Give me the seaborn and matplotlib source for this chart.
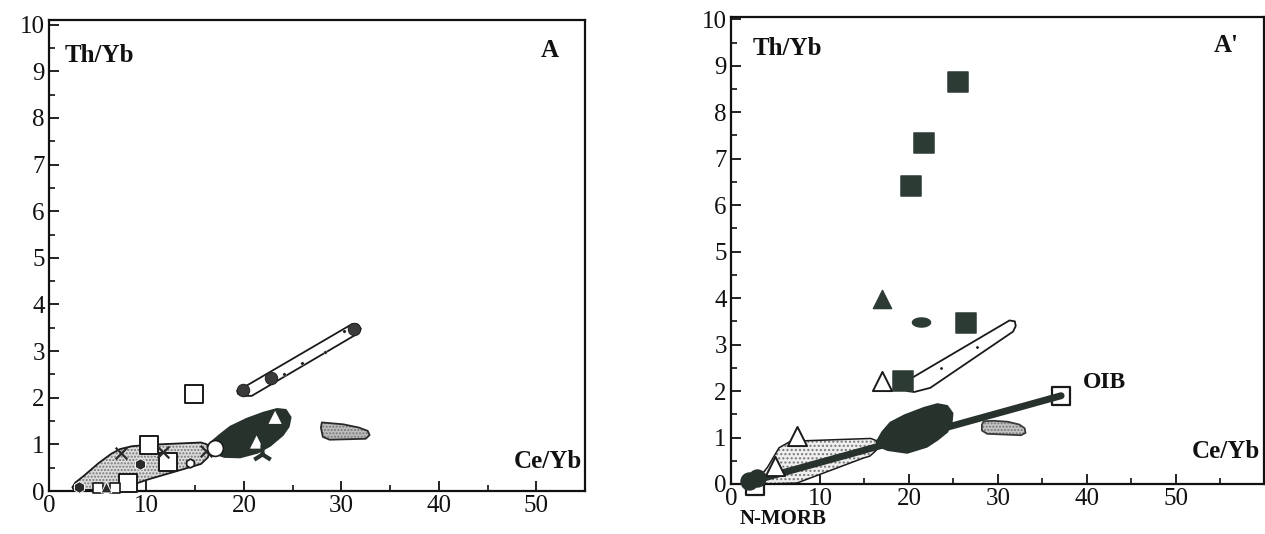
import numpy as np
import pandas as pd
import matplotlib
matplotlib.use("Agg")
import matplotlib.pyplot as plt
import seaborn as sns

sns.set_theme(style="ticks")
plt.rcParams['font.family'] = ['Liberation Serif', 'DejaVu Serif']

DARK = '#27322d'

# ---------------- Panel A data ----------------
A_light_x = [2.4, 2.7, 3.6, 5.1, 6.4, 7.3, 8.5, 10.2, 15.6, 16.2, 16.5, 16.3, 15.6, 13.0, 10.2, 7.8, 5.1, 3.0, 2.5]
A_light_y = [0.08, 0.18, 0.33, 0.60, 0.80, 0.90, 0.96, 0.99, 1.04, 1.00, 0.88, 0.72, 0.58, 0.42, 0.25, 0.08, 0.03, 0.02, 0.04]
A_dark_x = [16.6, 17.5, 18.6, 20.3, 22.0, 23.4, 24.3, 24.8, 24.6, 24.0, 22.7, 21.4, 19.6, 18.0, 17.0, 16.5]
A_dark_y = [1.04, 1.20, 1.38, 1.55, 1.68, 1.76, 1.74, 1.58, 1.38, 1.20, 0.97, 0.82, 0.72, 0.73, 0.80, 0.93]
A_upper_x = [19.6, 20.2, 31.1, 31.7, 32.0, 31.8, 31.3, 20.8, 20.0, 19.4, 19.3]
A_upper_y = [2.21, 2.25, 3.58, 3.57, 3.48, 3.40, 3.33, 2.04, 2.04, 2.08, 2.15]
A_small_x = [28.0, 30.2, 31.8, 32.7, 32.9, 32.5, 28.8, 28.1, 27.9]
A_small_y = [1.47, 1.43, 1.36, 1.29, 1.20, 1.12, 1.10, 1.16, 1.36]

A_opensq_x = [14.85, 10.3, 12.2, 8.1]
A_opensq_y = [2.09, 0.99, 0.62, 0.18]
A_smallsq_x = [5.0, 6.8]
A_smallsq_y = [0.07, 0.07]
A_circ_x = [19.9, 22.8, 31.3]
A_circ_y = [2.17, 2.42, 3.48]
A_dot_x = [24.1, 28.3, 30.3, 26.0]
A_dot_y = [2.51, 2.97, 3.43, 2.75]
A_xmark_x = [7.4, 16.1, 11.7]
A_xmark_y = [0.81, 0.86, 0.84]
A_tri_x = [5.9]
A_tri_y = [0.09]
A_blob_x = [3.05, 9.3]
A_blob_y = [0.09, 0.57]
A_opencirc_x = [17.05]
A_opencirc_y = [0.92]
A_hex_x = [14.5]
A_hex_y = [0.61]
A_wtri_x = [23.2, 21.3]
A_wtri_y = [1.58, 1.05]
A_star_x = [21.9]
A_star_y = [0.80]

# ---------------- Panel A' data ----------------
B_light_x = [3.0, 4.1, 5.4, 6.7, 15.7, 16.4, 16.3, 15.6, 14.9, 7.4, 4.1, 2.9]
B_light_y = [0.10, 0.36, 0.78, 0.92, 0.98, 0.93, 0.72, 0.60, 0.56, 0.02, 0.00, 0.04]
B_dark_x = [16.4, 17.0, 17.9, 19.5, 21.7, 23.2, 24.3, 24.9, 24.8, 24.3, 23.2, 22.0, 19.8, 17.6, 16.6]
B_dark_y = [0.92, 1.12, 1.32, 1.48, 1.64, 1.72, 1.68, 1.52, 1.32, 1.12, 0.95, 0.80, 0.67, 0.73, 0.81]
B_upper_x = [19.5, 20.3, 31.3, 31.9, 32.0, 31.7, 22.4, 20.6, 19.8, 19.4]
B_upper_y = [2.14, 2.28, 3.52, 3.50, 3.40, 3.28, 2.07, 1.98, 2.00, 2.06]
B_small_x = [28.4, 29.5, 31.1, 32.4, 33.0, 33.1, 32.6, 28.8, 28.2, 28.2]
B_small_y = [1.35, 1.36, 1.34, 1.28, 1.20, 1.10, 1.05, 1.08, 1.15, 1.28]

B_fsq_x = [25.5, 21.7, 20.2, 26.4, 19.3]
B_fsq_y = [8.65, 7.33, 6.42, 3.47, 2.21]
B_ftri_x = [17.0]
B_ftri_y = [3.98]
B_ell_x = [21.3]
B_ell_y = [3.48]
B_otri_x = [17.0, 7.4, 4.9]
B_otri_y = [2.21, 1.03, 0.38]
B_osq_x = [37.1, 2.7]
B_osq_y = [1.90, -0.05]
B_fcirc_x = [2.0, 2.9]
B_fcirc_y = [0.06, 0.13]
B_dot_x = [23.6, 27.7]
B_dot_y = [2.50, 2.95]
B_line_x = [2.2, 37.1]
B_line_y = [0.05, 1.90]

W, H = 1265, 534
fig = plt.figure(figsize=(W / 100, H / 100), dpi=100)
axA = fig.add_axes([49 / W, 1 - 491 / H, (585 - 49) / W, (491 - 20) / H])
axB = fig.add_axes([731 / W, 1 - 484 / H, (1264 - 731) / W, (484 - 17) / H])


def field(ax, xs, ys, fc, ec, hatch=None, lw=1.3, z=2):
    ax.fill(xs, ys, facecolor=fc, edgecolor='#777777' if hatch else 'none',
            hatch=hatch, linewidth=0, zorder=z)
    ax.fill(xs, ys, facecolor='none', edgecolor=ec, linewidth=lw, zorder=z + 0.1,
            joinstyle='round')


def pts(ax, xs, ys, **kw):
    sns.scatterplot(x=xs, y=ys, ax=ax, legend=False, clip_on=False, **kw)


# ---- Panel A ----
field(axA, A_light_x, A_light_y, '#dcdcdc', '#1a1a1a', hatch='.....')
field(axA, A_dark_x, A_dark_y, DARK, DARK, z=3)
field(axA, A_upper_x, A_upper_y, 'white', '#1a1a1a')
field(axA, A_small_x, A_small_y, '#bdbdbd', '#2a2a2a', hatch='.....')

pts(axA, A_opensq_x, A_opensq_y, marker='s', s=160, facecolor='white', edgecolor='#1a1a1a', linewidth=1.4, zorder=5)
pts(axA, A_smallsq_x, A_smallsq_y, marker='s', s=50, facecolor='white', edgecolor='#1a1a1a', linewidth=1.2, zorder=5)
pts(axA, A_circ_x, A_circ_y, marker='o', s=80, color='#3a3a3a', edgecolor='#222222', zorder=5)
pts(axA, A_dot_x, A_dot_y, marker='o', s=6, color='#222222', zorder=5)
pts(axA, A_xmark_x, A_xmark_y, marker='x', s=70, color='#2a2a2a', linewidth=1.6, zorder=5)
pts(axA, A_tri_x, A_tri_y, marker='^', s=60, color='#2a2a2a', zorder=5)
pts(axA, A_blob_x, A_blob_y, marker='h', s=70, color='#2a2a2a', zorder=5)
pts(axA, A_opencirc_x, A_opencirc_y, marker='o', s=130, facecolor='white', edgecolor='#1a1a1a', linewidth=1.2, zorder=5)
pts(axA, A_hex_x, A_hex_y, marker='h', s=40, facecolor='white', edgecolor='#1a1a1a', linewidth=1.2, zorder=5)
pts(axA, A_wtri_x, A_wtri_y, marker='^', s=90, color='white', edgecolor='none', zorder=5)
pts(axA, A_star_x, A_star_y, marker='2', s=220, color=DARK, linewidth=3, zorder=5)

# ---- Panel A' ----
field(axB, B_light_x, B_light_y, '#efefef', '#1a1a1a', hatch='....', lw=1.1)
sns.lineplot(x=B_line_x, y=B_line_y, ax=axB, color=DARK, linewidth=5, zorder=4,
             solid_capstyle='round', legend=False)
field(axB, B_dark_x, B_dark_y, DARK, DARK, z=4)
field(axB, B_upper_x, B_upper_y, 'white', '#1a1a1a')
field(axB, B_small_x, B_small_y, '#c4c4c4', '#3a3a3a', hatch='.....')

pts(axB, B_fsq_x, B_fsq_y, marker='s', s=190, color='#2d3b35', edgecolor='#2d3b35', zorder=5)
pts(axB, B_ftri_x, B_ftri_y, marker='^', s=170, color='#2d3b35', edgecolor='#2d3b35', zorder=5)
ell = [(np.cos(t), 0.5 * np.sin(t)) for t in np.linspace(0, 2 * np.pi, 40)]
pts(axB, B_ell_x, B_ell_y, marker=ell, s=170, color='#2d3b35', edgecolor='#2d3b35', zorder=5)
pts(axB, B_otri_x, B_otri_y, marker='^', s=190, facecolor='white', edgecolor='#1a1a1a', linewidth=1.4, zorder=5)
pts(axB, B_osq_x, B_osq_y, marker='s', s=170, facecolor='white', edgecolor='#1a1a1a', linewidth=1.6, zorder=3)
pts(axB, B_fcirc_x, B_fcirc_y, marker='o', s=150, color=DARK, edgecolor=DARK, zorder=5)
pts(axB, B_dot_x, B_dot_y, marker='o', s=5, color='#222222', zorder=5)

# ---- axes styling ----
for ax, xmax in ((axA, 54.5), (axB, 59.9)):
    ax.set_xlim(0, xmax)
    ax.set_ylim(0, 10.1 if ax is axA else 10.05)
    ax.set_xticks([0, 10, 20, 30, 40, 50])
    ax.set_xticks([5, 15, 25, 35, 45, 55], minor=True)
    ax.set_yticks(range(0, 11))
    ax.set_yticks(np.arange(0.5, 10, 1.0), minor=True)
    ax.tick_params(which='both', direction='in', colors='#111111', labelsize=18,
                   top=False, right=False)
    ax.tick_params(which='major', length=7, width=1.3, pad=3)
    ax.tick_params(which='minor', length=4, width=1.2)
    ax.set_xlabel('')
    ax.set_ylabel('')
    for sp in ax.spines.values():
        sp.set_linewidth(1.6)
        sp.set_color('#111111')
        sp.set_visible(True)

bold = dict(fontsize=18, fontweight='bold', color='#111111')
axA.text(0.03, 0.925, 'Th/Yb', transform=axA.transAxes, ha='left', va='center', **bold)
axA.text(0.935, 0.935, 'A', transform=axA.transAxes, ha='center', va='center', **bold)
axA.text(0.995, 0.062, 'Ce/Yb', transform=axA.transAxes, ha='right', va='center', **bold)

axB.text(0.04, 0.932, 'Th/Yb', transform=axB.transAxes, ha='left', va='center', **bold)
axB.text(0.905, 0.94, "A'", transform=axB.transAxes, ha='left', va='center', **bold)
axB.text(0.865, 0.069, 'Ce/Yb', transform=axB.transAxes, ha='left', va='center', **bold)
axB.text(39.6, 2.18, 'OIB', ha='left', va='center', **{**bold, 'fontsize': 17})
axB.text(1.0, -0.76, 'N-MORB', ha='left', va='center', clip_on=False, **{**bold, 'fontsize': 15})

fig.savefig('out.png', dpi=100)
